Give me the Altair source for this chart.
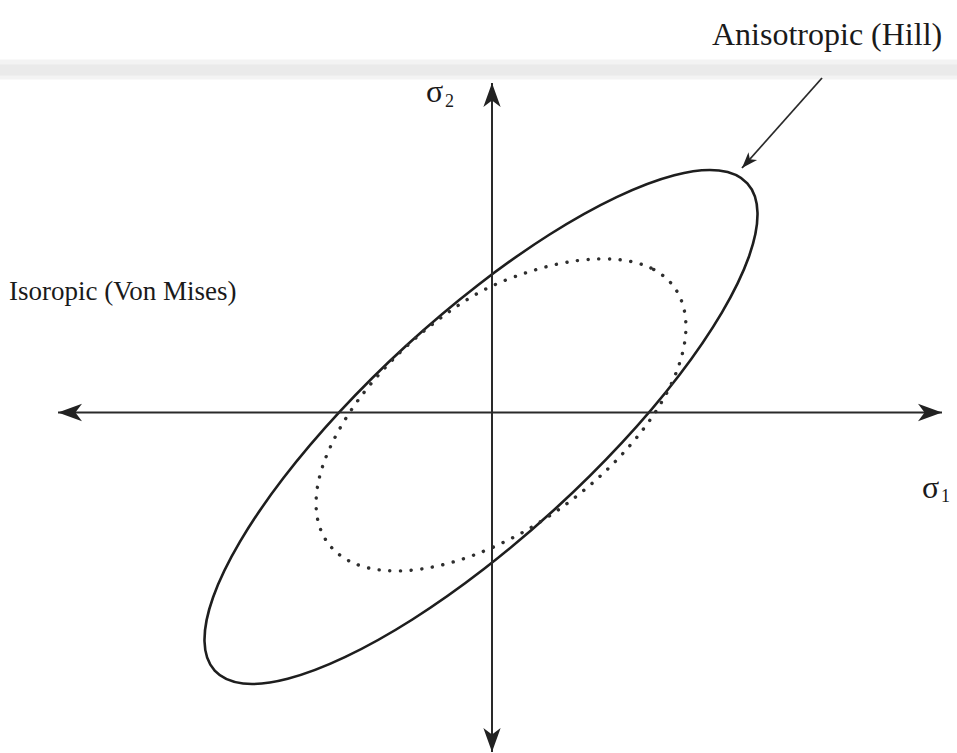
import altair as alt
import pandas as pd

# Principal-stress plane: sigma1 to the right, sigma2 upward, origin at the axes crossing.
# Yield loci traced as closed outlines (24 vertices each).
hill_s1 = [255.3, 226.9, 182.3, 124.6, 57.6, -14.2, -85.6, -152.0, -208.8, -252.0, -278.9, -287.5,
           -277.3, -248.9, -204.3, -146.6, -79.6, -7.8, 63.6, 130.0, 186.8, 230.0, 256.9, 265.5]
hill_s2 = [229.2, 242.0, 237.3, 215.4, 178.0, 127.3, 67.0, 1.1, -65.8, -129.2, -184.75, -228.8,
           -258.2, -271.0, -266.25, -244.4, -207.0, -156.3, -96.0, -30.1, 36.8, 100.2, 155.75, 199.8]
mises_s1 = [181.9, 159.0, 125.8, 84.6, 38.0, -11.0, -58.0, -100.0, -134.8, -159.8, -173.6, -175.0,
            -163.9, -141.0, -107.8, -66.8, -20.45, 27.9, 74.8, 117.3, 152.45, 177.8, 191.6, 193.0]
mises_s2 = [125.8, 144.4, 153.0, 151.8, 141.0, 121.0, 89.5, 52.0, 11.0, -30.5, -69.25, -103.4,
            -130.8, -149.4, -157.95, -155.9, -143.45, -121.4, -91.2, -55.0, -15.15, 25.5, 64.25, 98.4]

# Axis extents
axis_s1 = [-434, 450]
axis_s2 = [-339.5, 329.5]

# Pointer from the label to the Hill locus
pointer_from = [330, 334.5]
pointer_to = [250, 244.5]

# Labels
labels = ["Anisotropic (Hill)", "Isoropic (Von Mises)", "σ", "1", "σ", "2"]
label_s1 = [220, -483, 430, 449, -66, -47]
label_s2 = [367.5, 113, -85, -89, 311, 306]
label_size = [32, 27, 32, 18, 32, 18]

XS = alt.Scale(domain=[-492, 465], nice=False, zero=False)
YS = alt.Scale(domain=[-340.5, 412.5], nice=False, zero=False)


def X(f):
    return alt.X(f, type="quantitative", scale=XS, axis=None)


def Y(f):
    return alt.Y(f, type="quantitative", scale=YS, axis=None)


INK = "#1e1e1e"

# faint scanner streak across the top
band = pd.DataFrame({"x0": [-492, -492], "x1": [465, 465],
                     "y0": [333.0, 337.0], "y1": [353.0, 348.0],
                     "c": ["#f3f3f3", "#eaeaea"]})
band_layer = alt.Chart(band).mark_rect().encode(
    x=X("x0"), x2="x1", y=Y("y0"), y2="y1",
    color=alt.Color("c:N", scale=None))

hill = pd.DataFrame({"s1": hill_s1, "s2": hill_s2, "i": list(range(len(hill_s1)))})
mises = pd.DataFrame({"s1": mises_s1, "s2": mises_s2, "i": list(range(len(mises_s1)))})

hill_layer = alt.Chart(hill).mark_line(
    interpolate="cardinal-closed", color=INK, strokeWidth=2.6
).encode(x=X("s1"), y=Y("s2"), order=alt.Order("i:Q"))

mises_layer = alt.Chart(mises).mark_line(
    interpolate="cardinal-closed", color="#2e2e2e", strokeWidth=3.4,
    strokeDash=[0.1, 10.6], strokeCap="round"
).encode(x=X("s1"), y=Y("s2"), order=alt.Order("i:Q"))

axes = pd.DataFrame({"x0": [axis_s1[0], 0], "x1": [axis_s1[1], 0],
                     "y0": [0, axis_s2[0]], "y1": [0, axis_s2[1]]})
axes_layer = alt.Chart(axes).mark_rule(color="#2a2a2a", strokeWidth=2).encode(
    x=X("x0"), x2="x1", y=Y("y0"), y2="y1")

# barbed arrow head, tip at the symbol origin, pointing right
HEAD = "M0,0 L-2,-0.72 L-1.45,0 L-2,0.72 Z"
heads = pd.DataFrame({"s1": [axis_s1[1], axis_s1[0], 0, 0],
                      "s2": [0, 0, axis_s2[1], axis_s2[0]],
                      "ang": [0, 180, 270, 90]})
heads_layer = alt.Chart(heads).mark_point(
    shape=HEAD, filled=True, size=576, color="#222222", opacity=1, strokeWidth=0
).encode(x=X("s1"), y=Y("s2"), angle=alt.Angle("ang:Q", scale=None))

pointer = pd.DataFrame({"x0": [pointer_from[0]], "y0": [pointer_from[1]],
                        "x1": [pointer_to[0]], "y1": [pointer_to[1]]})
pointer_layer = alt.Chart(pointer).mark_rule(color="#2a2a2a", strokeWidth=1.8).encode(
    x=X("x0"), x2="x1", y=Y("y0"), y2="y1")

pointer_head = pd.DataFrame({"s1": [pointer_to[0]], "s2": [pointer_to[1]], "ang": [132]})
pointer_head_layer = alt.Chart(pointer_head).mark_point(
    shape=HEAD, filled=True, size=260, color="#222222", opacity=1, strokeWidth=0
).encode(x=X("s1"), y=Y("s2"), angle=alt.Angle("ang:Q", scale=None))

text = pd.DataFrame({"s1": label_s1, "s2": label_s2, "t": labels, "fs": label_size})
text_layer = alt.Chart(text).mark_text(
    align="left", baseline="alphabetic", font="Liberation Serif", color="#1a1a1a"
).encode(x=X("s1"), y=Y("s2"), text="t:N", size=alt.Size("fs:Q", scale=None))

chart = alt.layer(
    band_layer, hill_layer, mises_layer, axes_layer, heads_layer,
    pointer_layer, pointer_head_layer, text_layer
).properties(
    width=957, height=753, autosize=alt.AutoSizeParams(type="none"), padding=0,
    background="white"
).configure_view(strokeWidth=0)

chart.save("out.html", embed_options={"renderer": "svg", "actions": False})
